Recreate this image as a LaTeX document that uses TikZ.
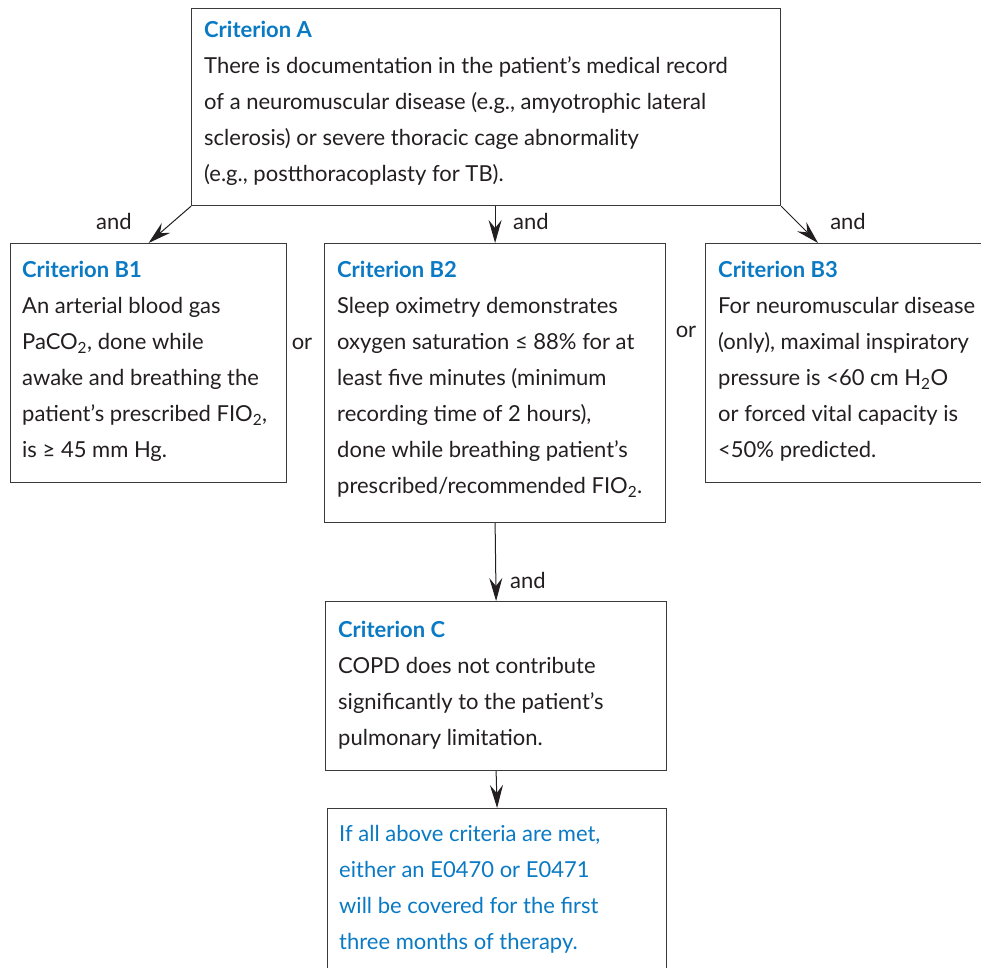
\documentclass[tikz,border=0pt]{standalone}
\usepackage{fontspec}
\setmainfont{Lato}
\usetikzlibrary{arrows.meta}
\definecolor{ink}{HTML}{231F20}
\definecolor{frame}{HTML}{3A3A3A}
\definecolor{titleblue}{HTML}{0A7AC4}
\newcommand{\crit}[1]{\textcolor{titleblue}{\bfseries #1}}
\begin{document}
\begin{tikzpicture}[x=1pt,y=-1pt,
  box/.style={draw=frame,line width=1.2pt,anchor=north west,inner sep=0pt},
  body/.style={anchor=north west,inner sep=0pt,align=left,text=ink,
    font=\fontsize{22}{36}\selectfont},
  lbl/.style={anchor=base,inner sep=0pt,text=ink,font=\fontsize{22}{24}\selectfont},
  link/.style={draw=ink,line width=1pt,-{Stealth[length=23pt,width=13pt,inset=8pt]}}]
\clip (0,0) rectangle (981,967);
\fill[white] (0,0) rectangle (981,967);

% boxes
\node[box,minimum width=589pt,minimum height=197pt] (A) at (191,8) {};
\node[box,minimum width=276pt,minimum height=239pt] (B1) at (10,243) {};
\node[box,minimum width=341pt,minimum height=279pt] (B2) at (324,243) {};
\node[box,minimum width=300pt,minimum height=239pt] (B3) at (705,243) {};
\node[box,minimum width=341pt,minimum height=169pt] (C) at (325,601) {};
\node[box,minimum width=339pt,minimum height=180pt] (D) at (327,808) {};
\coordinate (B3in) at (818,243);

% box texts
\node[body] (tA) at (204,21) {\crit{Criterion A}\\
There is documentation in the patient’s medical record\\
of a neuromuscular disease (e.g., amyotrophic lateral\\
sclerosis) or severe thoracic cage abnormality\\
(e.g., postthoracoplasty for TB).};
\node[body] (tB1) at (22,261) {\crit{Criterion B1}\\
An arterial blood gas\\
PaCO\textsubscript{2}, done while\\
awake and breathing the\\
patient’s prescribed FIO\textsubscript{2},\\
is ≥ 45 mm Hg.};
\node[body] (tB2) at (337,261) {\crit{Criterion B2}\\
Sleep oximetry demonstrates\\
oxygen saturation ≤ 88\% for at\\
least five minutes (minimum\\
recording time of 2 hours),\\
done while breathing patient’s\\
prescribed/recommended FIO\textsubscript{2}.};
\node[body] (tB3) at (718,261) {\crit{Criterion B3}\\
For neuromuscular disease\\
(only), maximal inspiratory\\
pressure is <60 cm H\textsubscript{2}O\\
or forced vital capacity is\\
<50\% predicted.};
\node[body] (tC) at (338,621) {\crit{Criterion C}\\
COPD does not contribute\\
significantly to the patient’s\\
pulmonary limitation.};
\node[body,text=titleblue] (tD) at (339,825) {If all above criteria are met,\\
either an E0470 or E0471\\
will be covered for the first\\
three months of therapy.};

% connectors
\draw[link] (A.south west) -- (B1.north);
\draw[link] (B2.north |- A.south) -- (B2.north);
\draw[link] (A.south east) -- (B3in);
\draw[link] (B2.south) -- (C.north);
\draw[link] (C.south) -- (D.north);

% connector labels
\node[lbl] (and1) at (114,229) {and};
\node[lbl] (and2) at (531,229) {and};
\node[lbl] (and3) at (848,229) {and};
\node[lbl] (and4) at (528,588) {and};
\node[lbl] (or1) at (302,349) {or};
\node[lbl] (or2) at (686,337) {or};
\end{tikzpicture}
\end{document}
